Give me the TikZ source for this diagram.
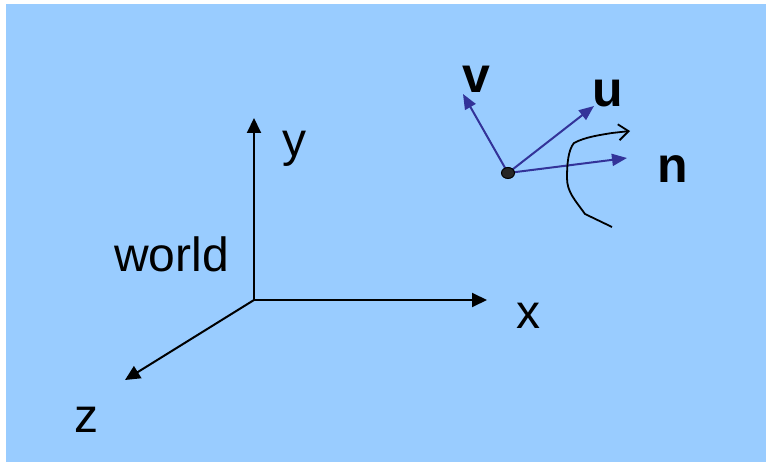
\documentclass[tikz,border=0pt]{standalone}
\usepackage{fontspec}
\setmainfont{Liberation Sans}
\usetikzlibrary{arrows.meta,shapes.geometric}
\definecolor{bgblue}{HTML}{99CCFF}
\definecolor{vecblue}{HTML}{333399}
\begin{document}
\begin{tikzpicture}[x=1pt,y=-1pt,
  axis/.style={draw=black,line width=2pt,-{Triangle[length=15pt,width=14pt]}},
  vec/.style={draw=vecblue,line width=2pt,-{Triangle[length=15pt,width=12pt]}},
  lbl/.style={anchor=base west,inner sep=0pt,font=\fontsize{48}{48}\selectfont},
  blbl/.style={anchor=base west,inner sep=0pt,font=\fontsize{50}{50}\selectfont\bfseries}]
\useasboundingbox (0,0) rectangle (766,462);
\fill[white] (0,0) rectangle (766,462);
\fill[bgblue] (6,4) rectangle (766,462);
% world axes
\coordinate (O) at (254,300);
\coordinate (Ytip) at (254,118);
\coordinate (Xtip) at (487,300);
\coordinate (Ztip) at (125,380);
\draw[axis] (O) -- (Ytip);
\draw[axis] (O) -- (Xtip);
\draw[axis] (O) -- (Ztip);
\node[lbl] (ylab) at (282,157) {y};
\node[lbl] (xlab) at (516,329) {x};
\node[lbl] (zlab) at (74,432) {z};
\node[lbl] (world) at (114,272) {world};
% camera frame
\coordinate (P) at (508,173);
\coordinate (Vtip) at (463,94);
\coordinate (Utip) at (594,106);
\coordinate (Ntip) at (627,158);
\draw[vec] (P) -- (Vtip);
\draw[vec] (P) -- (Utip);
\draw[vec] (P) -- (Ntip);
\node[draw=black,fill=black!85,ellipse,inner sep=0pt,minimum width=13pt,minimum height=11pt,line width=1pt] (dot) at (P) {};
\node[blbl] (vlab) at (462,93) {v};
\node[blbl] (ulab) at (592,107) {u};
\node[blbl] (nlab) at (657,183) {n};
% rotation curve
\coordinate (C0) at (612,227);
\coordinate (C1) at (630,131);
\draw[black,line width=1.8pt,-{Straight Barb[length=10pt,width=16pt]}]
  (C0) -- (585,214) .. controls (575,200) and (567,192) .. (567,178)
  .. controls (567,165) and (568,150) .. (574,143)
  .. controls (585,137) and (600,135) .. (612,133) -- (C1);
\end{tikzpicture}
\end{document}
